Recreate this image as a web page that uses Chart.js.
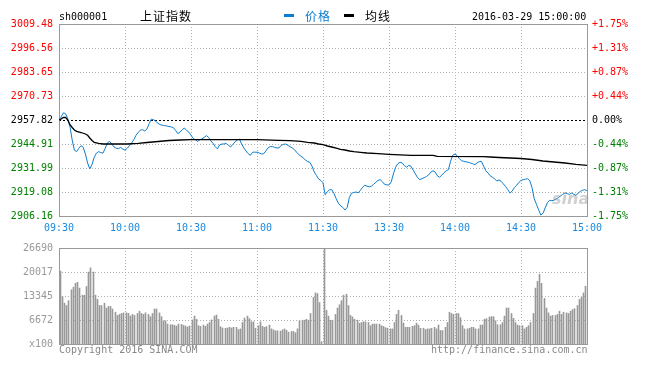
<!DOCTYPE html>
<html><head><meta charset="utf-8">
<script src="https://cdn.jsdelivr.net/npm/chart.js@4.4.0/dist/chart.umd.min.js"></script>
<style>
html,body{margin:0;padding:0;background:#fff;width:647px;height:365px;overflow:hidden;}
#wrap{position:relative;width:647px;height:365px;}
canvas{position:absolute;left:0;}
.t{position:absolute;font-family:"DejaVu Sans Mono",monospace;font-size:10px;line-height:12px;white-space:nowrap;}
.c{position:absolute;font-family:"Noto Sans CJK SC",sans-serif;font-size:12px;line-height:14px;letter-spacing:1px;white-space:nowrap;}
.dash{position:absolute;height:3px;width:10px;}
</style></head><body>
<div id="wrap">
<canvas id="price" width="647" height="236" style="top:0"></canvas>
<canvas id="vol" width="647" height="129" style="top:236px"></canvas>
<div class="t" style="left:59px;top:11px;color:#000">sh000001</div>
<div class="c" style="left:140px;top:9px;color:#000">上证指数</div>
<div class="dash" style="left:284px;top:14px;background:#0b7dd0"></div>
<div class="c" style="left:305px;top:9px;color:#0b7dd0">价格</div>
<div class="dash" style="left:344px;top:14px;background:#000"></div>
<div class="c" style="left:365px;top:9px;color:#000">均线</div>
<div class="t" style="left:472px;top:11px;color:#000">2016-03-29 15:00:00</div>
<div class="t" style="left:59px;top:344px;color:#888">Copyright 2016 SINA.COM</div>
<div class="t" style="left:431px;top:344px;color:#888">http://finance.sina.com.cn</div>
<div style="position:absolute;left:552px;top:189px;font-family:'DejaVu Sans',sans-serif;font-style:italic;font-weight:bold;font-size:16px;color:rgba(150,150,150,0.45);">sina</div>
</div>
<script>
// ---- data ----
const prevClose = 2957.82;
const priceTicks = [2906.16, 2919.08, 2931.99, 2944.91, 2957.82, 2970.73, 2983.65, 2996.56, 3009.48];
const pctLabels = ['-1.75%','-1.31%','-0.87%','-0.44%','0.00%','+0.44%','+0.87%','+1.31%','+1.75%'];
const timeLabels = ['09:30','10:00','10:30','11:00','11:30','13:30','14:00','14:30','15:00'];
const timeTickMinutes = [0,30,60,90,120,150,180,210,240];
const volTicks = [0, 6672, 13345, 20017, 26690];
const volTickLabels = ['x100','6672','13345','20017','26690'];

// price per minute (index = minute of session)
const price = [
2957.6,2959.5,2961.7,2961.2,2958.4,2954.1,2947.0,2941.6,2940.8,2942.6,
2944.0,2943.2,2939.5,2934.7,2931.5,2933.9,2937.7,2940.0,2940.8,2940.3,
2940.0,2942.6,2945.5,2946.3,2944.9,2943.3,2942.6,2942.4,2943.1,2942.2,
2941.6,2942.6,2944.0,2945.5,2947.2,2949.6,2951.2,2952.3,2952.6,2951.9,
2953.0,2955.9,2958.3,2958.0,2957.1,2956.0,2955.3,2955.0,2954.8,2954.6,
2954.3,2954.1,2953.7,2952.2,2950.5,2951.3,2952.6,2953.5,2952.2,2951.3,
2949.6,2947.9,2947.2,2946.3,2947.2,2947.7,2948.5,2949.4,2948.5,2946.6,
2945.3,2943.5,2942.3,2944.4,2944.9,2944.9,2945.2,2944.2,2943.3,2944.7,
2946.0,2947.0,2947.6,2944.9,2942.8,2941.1,2939.7,2938.8,2940.5,2940.5,
2940.5,2940.1,2939.6,2939.6,2941.1,2942.8,2943.5,2943.5,2943.1,2942.8,
2942.8,2944.2,2944.7,2944.9,2944.2,2943.5,2942.8,2941.9,2940.5,2939.2,
2938.3,2937.4,2936.3,2935.5,2935.1,2933.0,2929.9,2928.0,2926.1,2925.3,
2924.0,2917.6,2919.3,2920.3,2920.3,2918.2,2915.5,2913.0,2911.6,2910.8,
2909.4,2910.8,2916.2,2918.4,2918.8,2919.1,2918.6,2920.0,2921.6,2922.7,
2922.2,2921.9,2922.2,2923.2,2924.3,2925.3,2925.7,2924.6,2923.2,2922.9,
2922.9,2924.5,2928.8,2932.4,2934.3,2935.1,2934.7,2933.3,2932.4,2933.4,
2932.9,2930.8,2928.8,2926.8,2925.7,2926.3,2926.8,2927.4,2928.3,2929.8,
2930.5,2929.8,2927.8,2927.0,2928.2,2929.4,2930.5,2931.1,2935.6,2938.9,
2939.5,2938.6,2937.0,2935.9,2935.6,2935.3,2935.1,2934.7,2934.3,2933.8,
2934.7,2935.4,2935.6,2933.0,2930.5,2929.3,2927.8,2927.0,2926.2,2925.0,
2925.6,2924.8,2923.4,2922.0,2920.4,2918.5,2919.6,2921.5,2922.7,2924.2,
2925.3,2925.7,2926.0,2926.2,2925.1,2921.5,2915.5,2912.5,2909.5,2906.7,
2907.6,2910.5,2913.3,2914.6,2914.4,2914.7,2915.3,2916.1,2917.0,2917.8,
2918.5,2918.2,2917.8,2918.5,2917.8,2917.3,2918.5,2919.4,2920.0,2920.3,
2919.83];

// average line, read at key minutes
const avgMinutes = [0,1,2,3,4,5,6,7,8,10,12,13,14,15,16,18,20,31,36,40,45,50,55,60,90,100,105,110,113,116,118,120,122,124,126,128,130,132,134,137,140,145,150,155,160,170,172,193,196,200,205,210,215,220,225,230,235,240];
const avgValues = [2957.82,2958.36,2959.17,2959.27,2957.82,2955.29,2953.79,2952.44,2951.74,2951.09,2950.29,2949.59,2948.13,2946.79,2945.82,2945.28,2944.91,2944.91,2945.28,2945.71,2946.25,2946.79,2947.06,2947.22,2947.22,2946.90,2946.68,2946.36,2945.82,2945.44,2944.91,2944.53,2943.83,2943.29,2942.75,2942.05,2941.68,2941.14,2940.76,2940.44,2940.06,2939.68,2939.36,2939.09,2938.82,2938.82,2938.29,2938.13,2937.91,2937.64,2937.37,2937.10,2936.56,2935.76,2935.22,2934.68,2933.98,2933.44];

// volume per minute (x100 shares)
const volume = [
20270,13130,11340,10700,12050,15100,15800,16880,17150,15540,
13570,13570,15980,20000,21160,20000,13570,12400,10700,10700,
11340,10000,10450,10450,9730,8840,7950,8220,8480,8660,
8660,8480,7770,8220,7950,8480,9110,8480,8220,8660,
8220,7590,8480,9730,9730,8660,7590,6430,6430,5540,
5360,5360,5180,5000,5540,5450,5180,5000,4730,5000,
6700,7770,6880,5090,4910,5270,4910,5540,5980,6700,
7770,8040,6880,4820,4460,4380,4460,4640,4460,4640,
4640,4020,4200,5980,7230,7770,7050,6160,6160,4380,
5090,6160,4910,4640,4820,5270,4200,3930,3660,3660,
3570,3930,4200,3840,3300,3480,3480,3130,4200,6430,
6610,6610,6880,6610,8480,12950,14200,14020,11520,620,
26600,9380,7770,6610,6610,8220,10000,10900,12050,13570,
13840,10700,7950,7500,6880,6610,5800,5980,6160,6160,
5980,5090,5540,5540,5540,5540,5090,4910,4550,4380,
4200,4200,5980,8220,9380,7950,5800,4640,4640,4640,
4910,5090,5800,5270,4380,4380,4020,4200,4200,4380,
4640,4200,5270,3750,3750,4640,5980,8840,8480,8220,
8480,8480,7320,5090,4200,4200,4380,4640,4640,4200,
4200,5270,5270,6880,7050,7500,7590,7590,6430,5360,
5360,5980,7770,10000,10000,8480,7140,5980,5270,5090,
5090,4200,4640,5090,5980,8480,15540,17400,19380,16880,
12680,10000,8660,7770,7950,7950,8220,9110,8220,8840,
8660,8480,9110,9550,9820,10700,12400,12950,14200,16070,
16500];

// ---- drawing ----
const MONO = "'DejaVu Sans Mono', monospace";
const RED = '#ff0000', GREEN = '#008000', BLUE = '#0b7dd0';
function priceColor(v){ return Math.abs(v-prevClose)<0.01 ? '#000' : (v>prevClose ? RED : GREEN); }

const framePlugin = {
  id:'frame',
  beforeDatasetsDraw(chart, args, opts){
    const {ctx, chartArea:a, scales} = chart;
    const ys = scales.y, xs = scales.x;
    ctx.save();
    ctx.lineWidth = 1;
    ctx.strokeStyle = '#b0b0b0';
    ctx.setLineDash([1,2]);
    for (const v of opts.yTicks){
      if (opts.refValue !== undefined && Math.abs(v-opts.refValue)<0.001) continue;
      const y = Math.round(ys.getPixelForValue(v))+0.5;
      ctx.beginPath(); ctx.moveTo(a.left, y); ctx.lineTo(a.right, y); ctx.stroke();
    }
    for (const m of timeTickMinutes){
      const x = Math.round(xs.getPixelForValue(m))+0.5;
      ctx.beginPath(); ctx.moveTo(x, a.top); ctx.lineTo(x, a.bottom); ctx.stroke();
    }
    if (opts.refValue !== undefined){
      ctx.strokeStyle = '#000';
      ctx.setLineDash([2,2]);
      const y = Math.round(ys.getPixelForValue(opts.refValue))+0.5;
      ctx.beginPath(); ctx.moveTo(a.left, y); ctx.lineTo(a.right, y); ctx.stroke();
    }
    ctx.setLineDash([]);
    ctx.strokeStyle = '#999';
    ctx.strokeRect(Math.round(a.left)+0.5, Math.round(a.top)+0.5, Math.round(a.right-a.left), Math.round(a.bottom-a.top));
    ctx.restore();
  }
};
Chart.register(framePlugin);

// snap 1px bars onto whole pixels so they stay crisp
const crispBars = {
  id:'crispBars',
  beforeDatasetsDraw(chart){
    const meta = chart.getDatasetMeta(0);
    for (const el of meta.data){ el.x = Math.floor(el.x) + 1.5; }
  }
};

new Chart(document.getElementById('price'), {
  type:'line',
  data:{
    datasets:[
      {label:'均线', data: avgMinutes.map((m,i)=>({x:m,y:avgValues[i]})), borderColor:'#000', borderWidth:1.3, pointRadius:0, tension:0},
      {label:'价格', data: price.map((p,i)=>({x:i,y:p})), borderColor:BLUE, borderWidth:1, pointRadius:0, tension:0}
    ]
  },
  options:{
    responsive:false, animation:false,
    layout:{padding:{top:24,left:0,right:0,bottom:0}},
    plugins:{legend:{display:false}, tooltip:{enabled:false},
      frame:{yTicks:priceTicks, refValue:prevClose}},
    scales:{
      x:{type:'linear', min:0, max:240, grid:{display:false, drawTicks:false}, border:{display:false},
        afterBuildTicks:s=>{ s.ticks = timeTickMinutes.map(v=>({value:v})); },
        afterFit:s=>{ s.height = 20; },
        ticks:{autoSkip:false, maxRotation:0, padding:6, color:'#1a8ae0', font:{family:MONO,size:10},
          callback:(v)=> timeLabels[timeTickMinutes.indexOf(v)]}
      },
      y:{position:'left', min:priceTicks[0], max:priceTicks[priceTicks.length-1],
        grid:{display:false, drawTicks:false}, border:{display:false},
        afterBuildTicks:s=>{ s.ticks = priceTicks.map(v=>({value:v})); },
        afterFit:s=>{ s.width = 59; },
        ticks:{padding:6, font:{family:MONO,size:10}, color:(c)=>priceColor(c.tick.value),
          callback:(v)=> v.toFixed(2)}
      },
      y2:{position:'right', min:priceTicks[0], max:priceTicks[priceTicks.length-1],
        grid:{display:false, drawTicks:false}, border:{display:false},
        afterBuildTicks:s=>{ s.ticks = priceTicks.map(v=>({value:v})); },
        afterFit:s=>{ s.width = 60; },
        ticks:{padding:5, font:{family:MONO,size:10}, color:(c)=>priceColor(c.tick.value),
          callback:(v,i)=> pctLabels[i]}
      }
    }
  }
});

new Chart(document.getElementById('vol'), {
  type:'bar',
  data:{
    datasets:[{data: volume.map((v,i)=>({x:i,y:v})), backgroundColor:'#999', borderWidth:0, barThickness:1}]
  },
  plugins:[crispBars],
  options:{
    responsive:false, animation:false,
    layout:{padding:{top:8,left:0,right:60,bottom:21}},
    plugins:{legend:{display:false}, tooltip:{enabled:false}, frame:{yTicks:volTicks}},
    scales:{
      x:{type:'linear', min:0, max:240, offset:false, display:false, grid:{display:false}},
      y:{position:'left', min:0, max:volTicks[volTicks.length-1],
        grid:{display:false, drawTicks:false}, border:{display:false},
        afterBuildTicks:s=>{ s.ticks = volTicks.map(v=>({value:v})); },
        afterFit:s=>{ s.width = 59; },
        ticks:{padding:6, font:{family:MONO,size:10}, color:'#999',
          callback:(v,i)=> volTickLabels[i]}
      }
    }
  }
});
</script>
</body></html>
